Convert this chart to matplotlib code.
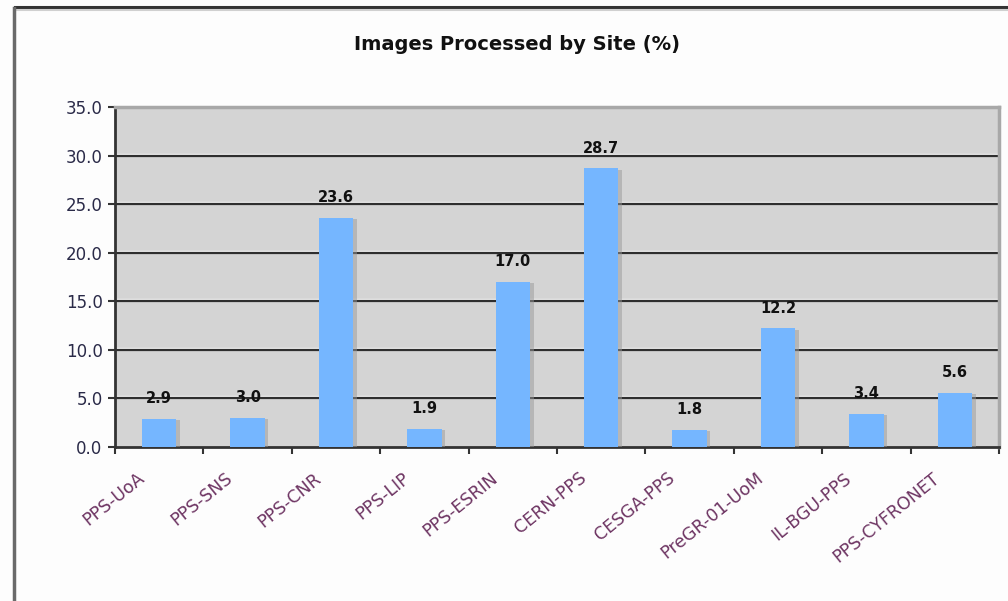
import matplotlib.pyplot as plt
import matplotlib.patheffects as pe
import matplotlib.transforms as mtransforms
from matplotlib.lines import Line2D
import numpy as np

sites = ['PPS-UoA', 'PPS-SNS', 'PPS-CNR', 'PPS-LIP', 'PPS-ESRIN',
         'CERN-PPS', 'CESGA-PPS', 'PreGR-01-UoM', 'IL-BGU-PPS', 'PPS-CYFRONET']
share = [2.9, 3.0, 23.6, 1.9, 17.0, 28.7, 1.8, 12.2, 3.4, 5.6]
yticks = [0, 5, 10, 15, 20, 25, 30, 35]


def main():
    fig = plt.figure(figsize=(10.08, 6.01), dpi=100)
    fig.patch.set_facecolor('#fdfdfd')
    ax = fig.add_axes([115 / 1008, 154 / 601, 884 / 1008, 340 / 601])
    ax.set_facecolor('#d4d4d4')

    # outer chart frame
    fig.add_artist(Line2D([15 / 1008, 1], [1 - 7 / 601] * 2, color='#333333', lw=2.2,
                          transform=fig.transFigure))
    fig.add_artist(Line2D([15 / 1008, 1], [1 - 10 / 601] * 2, color='#d0d0d0', lw=1.5,
                          transform=fig.transFigure))
    fig.add_artist(Line2D([14 / 1008] * 2, [0, 1 - 8 / 601], color='#6a6a6a', lw=2.5,
                          transform=fig.transFigure))

    pos = np.arange(len(sites))
    bars = ax.bar(pos, share, width=0.39, color='#75b6ff', zorder=3)
    for b in bars:
        b.set_path_effects([pe.SimplePatchShadow(offset=(2.5, -1), shadow_rgbFace='#999999',
                                                 alpha=0.5), pe.Normal()])
    ax.bar_label(bars, labels=[f'{v:.1f}' for v in share], padding=9,
                 fontsize=10.5, fontweight='bold', color='#111111')

    # gridlines with a white highlight just above
    for y in yticks[1:-1]:
        ax.axhline(y, color='#2e2e2e', lw=1.6, zorder=2)
        hl = mtransforms.offset_copy(ax.transData, fig=fig, x=0, y=2, units='dots')
        ax.plot([-0.5, 9.5], [y, y], color='#f4f4f4', lw=1, transform=hl, zorder=1.5)

    ax.set_xlim(-0.5, 9.5)
    ax.set_ylim(0, 35)
    ax.set_yticks(yticks)
    ax.set_yticklabels([f'{v:.1f}' for v in yticks], fontsize=12, color='#2a2a48')
    ax.tick_params(axis='y', length=5, width=1.5, color='#333333', pad=4)

    ax.set_xticks(np.append(pos[:-1] + 0.5, [-0.5, 9.5]))
    ax.set_xticklabels([])
    ax.set_xticks(pos, minor=True)
    ax.set_xticklabels(sites, minor=True, rotation=39, ha='right', va='center',
                       rotation_mode='anchor', fontsize=12.5, color='#6e3563')
    ax.tick_params(axis='x', which='major', length=5, width=1.5, color='#333333')
    ax.tick_params(axis='x', which='minor', length=0, pad=0)
    shift = mtransforms.ScaledTranslation(-0.17, -0.29, fig.dpi_scale_trans)
    for lab in ax.get_xticklabels(minor=True):
        lab.set_transform(lab.get_transform() + shift)

    for side in ['left', 'bottom']:
        ax.spines[side].set_color('#333333')
        ax.spines[side].set_linewidth(2)
    for side in ['top', 'right']:
        ax.spines[side].set_color('#a8a8a8')
        ax.spines[side].set_linewidth(2.5)

    fig.text(517 / 1008, 1 - 45 / 601, 'Images Processed by Site (%)', ha='center',
             va='center', fontsize=14, fontweight='bold', color='#111111')

    fig.savefig('out.png', dpi=100, facecolor=fig.get_facecolor())


if __name__ == '__main__':
    main()
